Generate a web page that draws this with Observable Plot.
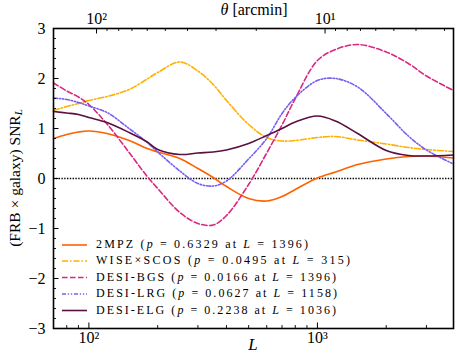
<!DOCTYPE html>
<html><head><meta charset="utf-8">
<script src="https://cdn.jsdelivr.net/npm/d3@7"></script>
<script src="https://cdn.jsdelivr.net/npm/@observablehq/plot@0.6"></script>
<style>
body{margin:0;background:#fff}
svg{font-family:"Liberation Serif","DejaVu Serif",serif}
</style>
</head><body><div id="chart"></div>
<script>
// multipole grid (L) and SNR per survey
const L = [70,80,90,100,120,150,180,200,250,300,350,400,500,600,700,800,1000,1200,1500,2000,2500,3000,3940];
const snr2MPZ = [0.80,0.88,0.93,0.95,0.90,0.76,0.60,0.53,0.40,0.20,0.02,-0.16,-0.40,-0.45,-0.36,-0.22,0.01,0.13,0.28,0.39,0.44,0.45,0.41];
const snrWISE = [1.36,1.44,1.50,1.56,1.64,1.78,1.99,2.12,2.33,2.15,1.88,1.56,1.08,0.82,0.75,0.76,0.82,0.84,0.77,0.69,0.62,0.58,0.54];
const snrBGS  = [1.91,1.75,1.63,1.48,1.09,0.52,0.04,-0.20,-0.68,-0.90,-0.93,-0.74,-0.12,0.51,1.07,1.60,2.36,2.58,2.68,2.53,2.30,2.05,1.76];
const snrLRG  = [1.61,1.58,1.52,1.45,1.32,1.00,0.72,0.53,0.15,-0.10,-0.15,-0.05,0.39,0.80,1.30,1.62,1.96,2.00,1.83,1.30,0.85,0.57,0.29];
const snrELG  = [1.34,1.31,1.28,1.22,1.12,0.92,0.73,0.58,0.48,0.51,0.53,0.57,0.70,0.86,1.00,1.13,1.25,1.15,0.90,0.56,0.46,0.45,0.47];

const names   = ["2MPZ","WISE×SCOS","DESI-BGS","DESI-LRG","DESI-ELG"];
const pvals   = ["0.6329","0.0495","0.0166","0.0627","0.2238"];
const pLs     = ["1396","315","1396","1158","1036"];
const colors  = ["#FE6100","#FFB000","#DC267F","#785EF0","#5A1040"];
const dashes  = [null,"6,2,1.5,2","5.5,2.5","4,1.8,1.3,1.8,1.3,1.8",null];
const values  = [snr2MPZ,snrWISE,snrBGS,snrLRG,snrELG];

// axis ticks
const xMajor = [100,1000];
const xMinor = [70,80,90,200,300,400,500,600,700,800,900,2000,3000];
const thetaMajor = [100,10];
const thetaMinor = [90,80,70,60,50,40,30,20,9,8,7,6,5,4,3];
const yMajor = [-3,-2,-1,0,1,2,3];
const yMinor = d3.range(-3,3.001,0.2).map(v=>Math.round(v*10)/10).filter(v=>!Number.isInteger(v));

const toL = th => 10800/th; // theta [arcmin] -> multipole
const sup = {"1":"¹","2":"²","3":"³"};
const pow10 = v => "10" + sup[String(Math.round(Math.log10(v)))];
const yFmt = d => d < 0 ? "−" + Math.abs(d) : String(d);

const W=457,H=356,mL=53,mR=4,mT=28,mB=28;
const fw=W-mL-mR, fh=H-mT-mB;
const FONT = "Liberation Serif";

const lineMarks = values.map((vals,i)=>Plot.line(L.map((l,j)=>({L:l,v:vals[j]})),{
  x:"L",y:"v",stroke:colors[i],strokeWidth:1.6,strokeDasharray:dashes[i],curve:"catmull-rom"
}));

const chart = Plot.plot({
  width:W,height:H,marginLeft:mL,marginRight:mR,marginTop:mT,marginBottom:mB,
  style:{fontFamily:FONT,fontSize:"15px",color:"black",background:"white"},
  x:{type:"log",domain:[70,3940],axis:null},
  y:{domain:[-3,3],axis:null},
  marks:[
    Plot.ruleY([0],{stroke:"black",strokeWidth:1.4,strokeDasharray:"1.4,1.4"}),
    ...lineMarks,
    // bottom ticks (inward)
    Plot.tickX(xMajor,{x:d=>d,insetTop:fh-5.5,stroke:"black",strokeWidth:1}),
    Plot.tickX(xMinor,{x:d=>d,insetTop:fh-3,stroke:"black",strokeWidth:0.9}),
    // top ticks (theta)
    Plot.tickX(thetaMajor,{x:toL,insetBottom:fh-5.5,stroke:"black",strokeWidth:1}),
    Plot.tickX(thetaMinor,{x:toL,insetBottom:fh-3,stroke:"black",strokeWidth:0.9}),
    // left ticks
    Plot.tickY(yMajor,{y:d=>d,insetRight:fw-5.5,stroke:"black",strokeWidth:1}),
    Plot.tickY(yMinor,{y:d=>d,insetRight:fw-3,stroke:"black",strokeWidth:0.9}),
    Plot.axisX(xMajor,{anchor:"bottom",tickSize:0,tickPadding:3,tickFormat:pow10,fontSize:16,fontFamily:FONT,label:null}),
    Plot.axisX(thetaMajor.map(toL),{anchor:"top",tickSize:0,tickPadding:5,tickFormat:l=>pow10(10800/l),fontSize:16,fontFamily:FONT,label:null}),
    Plot.axisY(yMajor,{anchor:"left",tickSize:0,tickPadding:8,tickFormat:yFmt,fontSize:16,fontFamily:FONT,label:null}),
    Plot.frame({stroke:"black",strokeWidth:1.6})
  ]
});
document.getElementById("chart").appendChild(chart);

const svg = d3.select(chart.tagName==="svg"?chart:chart.querySelector("svg"));
// y label
const yl = svg.append("text").attr("transform",`translate(16,${mT+fh/2}) rotate(-90)`)
  .attr("text-anchor","middle").attr("dominant-baseline","middle")
  .attr("font-size",15.5).attr("font-family",FONT).attr("fill","black");
yl.append("tspan").text("(FRB × galaxy) SNR");
yl.append("tspan").attr("font-style","italic").attr("font-size",11).attr("dy",3).text("L");
// x label
svg.append("text").attr("x",253).attr("y",346).attr("text-anchor","middle").attr("dominant-baseline","middle")
  .attr("font-size",17).attr("font-style","italic").attr("font-family",FONT).attr("fill","black").text("L");
// top label
const tl = svg.append("text").attr("x",254).attr("y",11).attr("text-anchor","middle").attr("dominant-baseline","middle")
  .attr("font-size",16).attr("font-family",FONT).attr("fill","black");
tl.append("tspan").attr("font-style","italic").text("θ");
tl.append("tspan").text(" [arcmin]");

// legend
const rowsY = [245,261,277.5,294,310.5];
const rowW  = [212,254,240,241,240];
const lg = svg.append("g");
names.forEach((n,i)=>{
  const y = rowsY[i];
  lg.append("line").attr("x1",62).attr("x2",87).attr("y1",y).attr("y2",y)
    .attr("stroke",colors[i]).attr("stroke-width",1.6).attr("stroke-dasharray",dashes[i]);
  const t = lg.append("text").attr("x",96).attr("y",y).attr("dominant-baseline","middle")
    .attr("text-anchor","start").attr("textLength",rowW[i]).attr("lengthAdjust","spacing")
    .attr("font-size",12).attr("font-family",FONT).attr("fill","black");
  t.append("tspan").text(n+" (");
  t.append("tspan").attr("font-style","italic").text("p");
  t.append("tspan").text(" = "+pvals[i]+" at ");
  t.append("tspan").attr("font-style","italic").text("L");
  t.append("tspan").text(" = "+pLs[i]+")");
});
</script>
</body></html>
